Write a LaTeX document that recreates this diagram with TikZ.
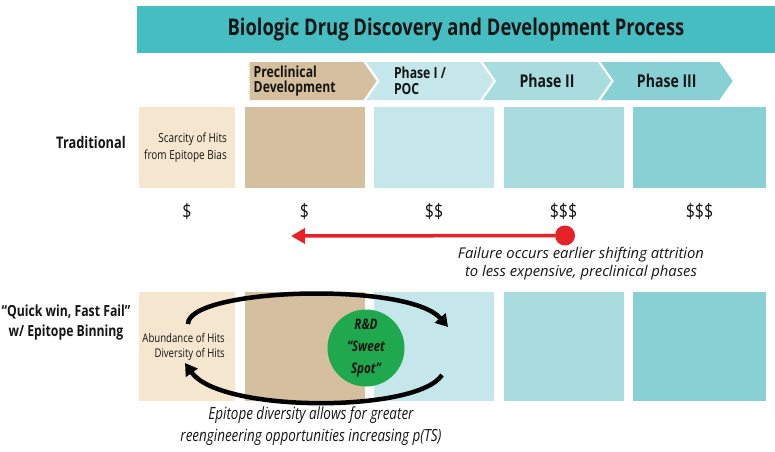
\documentclass[tikz,border=0pt]{standalone}
\usepackage{fontspec}
\setmainfont{Open Sans}[FakeStretch=0.8]
\newfontfamily\wideface{Open Sans}
\usetikzlibrary{arrows.meta,positioning,shapes.symbols}
\definecolor{TitleTeal}{HTML}{46BEC1}
\definecolor{SandLt}{HTML}{F5E6CF}
\definecolor{Sand}{HTML}{D6BF9E}
\definecolor{AquaLt}{HTML}{C5E6EB}
\definecolor{AquaMid}{HTML}{A8DCDF}
\definecolor{AquaDk}{HTML}{88D0D4}
\definecolor{SpotGreen}{HTML}{1FA84D}
\definecolor{FailRed}{HTML}{E62229}
\definecolor{Ink}{HTML}{151515}

\begin{document}
\begin{tikzpicture}[x=1pt, y=-1pt,
  titlebar/.style={fill=TitleTeal, minimum width=638pt, minimum height=47pt,
                   inner sep=0pt, font=\fontsize{23}{25}\selectfont\bfseries, text=Ink},
  chevron/.style={signal, signal to=east, signal pointer angle=110, inner sep=0pt,
                  minimum height=38pt, text=Ink},
  chevlbl/.style={align=left, inner sep=0pt, font=\fontsize{15.3}{15.5}\selectfont\bfseries, text=Ink},
  tcell/.style={inner sep=0pt, outer sep=0pt, minimum height=81pt},
  bcell/.style={inner sep=0pt, outer sep=0pt, minimum height=109pt},
  celltxt/.style={align=right, inner sep=0pt, font=\fontsize{12.5}{17}\selectfont, text=Ink},
  rowlbl/.style={align=center, inner sep=0pt, font=\fontsize{16}{19}\selectfont\bfseries, text=Ink},
  cost/.style={font=\fontsize{20}{20}\selectfont, text=Ink},
  note/.style={align=center, inner sep=0pt, text=Ink},
  loop/.style={line width=4.5pt, -{Triangle[length=12pt,width=14pt]}},
  node distance=9.5pt
]
  \useasboundingbox (0,0) rectangle (775,451);

  \node[titlebar] (ttl) at (456,29.5) {Biologic Drug Discovery and Development Process};

  \node[chevron, fill=Sand, minimum width=127pt] (c1) at (306.5,81) {};
  \node[chevron, signal from=west, fill=AquaLt, minimum width=127pt, right=2.5pt of c1] (c2) {};
  \node[chevron, signal from=west, fill=AquaMid, minimum width=128pt, right=2.5pt of c2,
        font=\fontsize{17.6}{18}\selectfont\bfseries] (c3) {Phase II};
  \node[chevron, signal from=west, fill=AquaDk, minimum width=132pt, right=2.5pt of c3,
        font=\fontsize{17.6}{18}\selectfont\bfseries] (c4) {Phase III};
  \node[chevlbl, anchor=west] (c1t) at ([xshift=-53pt]c1.center) {Preclinical\\Development};
  \node[chevlbl, anchor=west] (c2t) at ([xshift=-36pt]c2.center) {Phase I /\\POC};

  \node[tcell, fill=SandLt, minimum width=96pt] (t1) at (187,147.5) {};
  \node[tcell, fill=Sand, minimum width=120pt, right=of t1] (t2) {};
  \node[tcell, fill=AquaLt, minimum width=120pt, right=of t2] (t3) {};
  \node[tcell, fill=AquaMid, minimum width=120pt, right=of t3] (t4) {};
  \node[tcell, fill=AquaDk, minimum width=133pt, right=of t4] (t5) {};
  \node[celltxt, left=8pt of t1.east] (t1t) {Scarcity of Hits\\from Epitope Bias};
  \node[rowlbl] (trad) at (91,142) {Traditional};

  \coordinate (costrow) at (0,211);
  \node[cost] (d1) at (t1 |- costrow) {\$};
  \node[cost] (d2) at (t2 |- costrow) {\$};
  \node[cost] (d3) at (t3 |- costrow) {\$\$};
  \node[cost] (d4) at (t4 |- costrow) {\$\$\$};
  \node[cost] (d5) at (t5 |- costrow) {\$\$\$};

  \node[circle, fill=FailRed, minimum size=20pt, inner sep=0pt] (fail) at (565,235.5) {};
  \coordinate (failend) at (291,236);
  \draw[FailRed, line width=3.5pt, -{Triangle[length=14pt,width=15pt]}] (fail) -- (failend);
  \node[note, font=\wideface\fontsize{14.8}{18}\selectfont\itshape] (failnote) at (581,264)
    {Failure occurs earlier shifting attrition\\to less expensive, preclinical phases};

  \node[bcell, fill=SandLt, minimum width=96pt] (b1) at (187,346.5) {};
  \node[bcell, fill=Sand, minimum width=120pt, right=of b1] (b2) {};
  \node[bcell, fill=AquaLt, minimum width=120pt, right=of b2] (b3) {};
  \node[bcell, fill=AquaMid, minimum width=120pt, right=of b3] (b4) {};
  \node[bcell, fill=AquaDk, minimum width=133pt, right=of b4] (b5) {};
  \node[celltxt, font=\fontsize{12}{15}\selectfont, left=10pt of b1.east] (b1t) {Abundance of Hits\\Diversity of Hits};
  \node[rowlbl, font=\fontsize{15.3}{20}\selectfont\bfseries] (qwff) at (66,323)
    {“Quick win, Fast Fail”\\w/ Epitope Binning};

  \node[circle, fill=SpotGreen, minimum size=77pt, inner sep=0pt, align=center,
        font=\fontsize{14.5}{22}\selectfont\bfseries\itshape, text=Ink] (spot) at (366,348)
    {R\&D\\“Sweet\\Spot”};

  \coordinate (lpA) at (188,324);
  \coordinate (lpB) at (448,327);
  \coordinate (lpC) at (442,375);
  \coordinate (lpD) at (185,363);
  \draw[loop] (lpA) .. controls +(0,-36) and +(-40,-46) .. (lpB);
  \draw[loop] (lpC) .. controls +(-25,38) and +(35,50) .. (lpD);

  \node[note, font=\fontsize{16.8}{22}\selectfont\itshape] (divnote) at (311,426)
    {Epitope diversity allows for greater\\reengineering opportunities increasing p(TS)};
\end{tikzpicture}
\end{document}
